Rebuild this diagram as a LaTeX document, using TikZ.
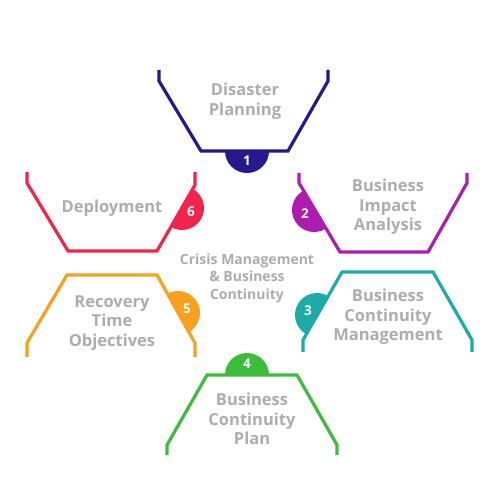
\documentclass[tikz,border=0pt]{standalone}
\usepackage{fontspec}
\setmainfont{Open Sans}
\definecolor{cnavy}{HTML}{221A8D}
\definecolor{cred}{HTML}{F3244B}
\definecolor{cpurple}{HTML}{AC1CAF}
\definecolor{corange}{HTML}{F8A11F}
\definecolor{cteal}{HTML}{1BACA8}
\definecolor{cgreen}{HTML}{3CBC3B}
\definecolor{ctext}{HTML}{ADADAD}

\begin{document}
\begin{tikzpicture}[x=1pt,y=1pt]
\useasboundingbox[fill=white] (0,0) rectangle (500,-500);

\begin{scope}[line width=3.2pt, line join=miter]
    \draw[cnavy]   (159,-70) -- (159,-81) -- (201,-151) -- (288,-151) -- (328,-81) -- (328,-70);
    \draw[cpurple] (299,-173) -- (299,-183) -- (340,-252) -- (428,-252) -- (467,-183) -- (467,-173);
    \draw[cteal]   (303,-352) -- (303,-340) -- (342,-272) -- (433,-272) -- (472,-340) -- (472,-352);
    \draw[cgreen]  (167,-455) -- (167,-445) -- (207,-375) -- (297,-375) -- (337,-445) -- (337,-455);
    \draw[corange] (27,-357) -- (27,-343) -- (67,-275) -- (157,-275) -- (195,-343) -- (195,-357);
    \draw[cred]    (27,-172) -- (27,-183) -- (68,-251) -- (157,-251) -- (195,-185) -- (195,-172);
\end{scope}

\coordinate (c1) at (247,-151);
\coordinate (c2) at (314,-210);
\coordinate (c3) at (317,-315);
\coordinate (c4) at (247,-375);
\coordinate (c5) at (178,-313);
\coordinate (c6) at (182,-208);

\fill[cnavy]   (c1) ++(180:22) arc[start angle=180,end angle=360,radius=22] -- cycle;
\fill[cpurple] (c2) ++(120.7:22) arc[start angle=120.7,end angle=300.7,radius=22] -- cycle;
\fill[cteal]   (c3) ++(60.2:22) arc[start angle=60.2,end angle=240.2,radius=22] -- cycle;
\fill[cgreen]  (c4) ++(0:22) arc[start angle=0,end angle=180,radius=22] -- cycle;
\fill[corange] (c5) ++(-60.8:22) arc[start angle=-60.8,end angle=119.2,radius=22] -- cycle;
\fill[cred]    (c6) ++(60:22) arc[start angle=60,end angle=-120,radius=22] -- cycle;

\begin{scope}[every node/.style={text=white,font=\bfseries\fontsize{13.5}{13.5}\selectfont}]
    \node (n1) at (247,-161) {1};
    \node (n2) at (305,-214) {2};
    \node (n3) at (308,-311) {3};
    \node (n4) at (247,-364) {4};
    \node (n5) at (187,-309) {5};
    \node (n6) at (191,-212) {6};
\end{scope}

\begin{scope}[every node/.style={text=ctext,align=center,font=\bfseries\fontsize{16.5}{19.5}\selectfont}]
    \node (t1) at (245,-101) {Disaster\\Planning};
    \node (t2) at (388,-207) {Business\\Impact\\Analysis};
    \node (t3) at (388,-317) {Business\\Continuity\\Management};
    \node (t4) at (252,-419) {Business\\Continuity\\Plan};
    \node (t5) at (112,-323) {Recovery\\Time\\Objectives};
    \node (t6) at (112,-208) {Deployment};
    \node[font=\bfseries\fontsize{14}{17.5}\selectfont] (tc) at (247,-278) {Crisis Management\\\& Business\\Continuity};
\end{scope}
\end{tikzpicture}
\end{document}
